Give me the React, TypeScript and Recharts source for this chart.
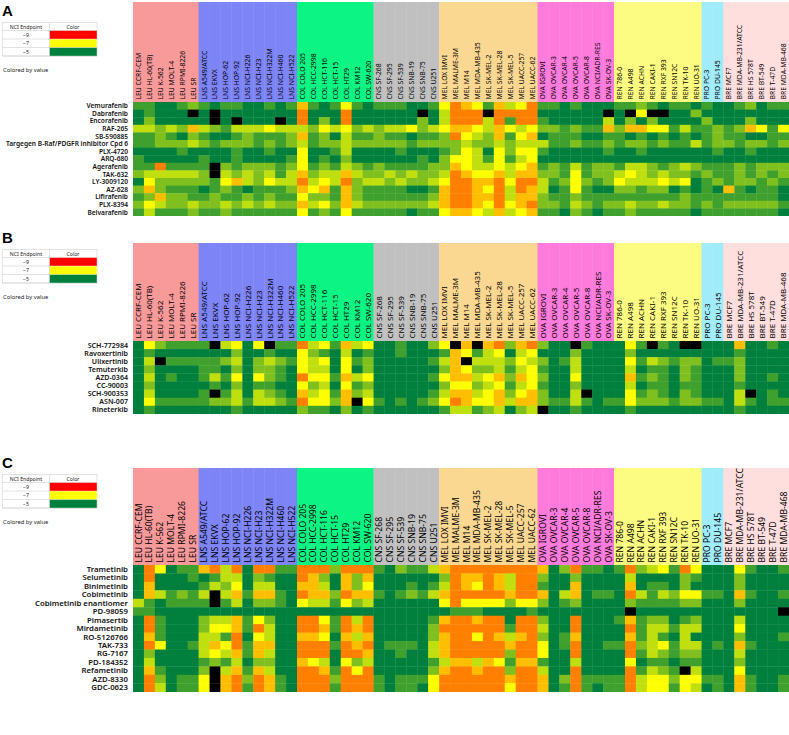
import React from 'react';
import { ScatterChart, Scatter, XAxis, YAxis } from 'recharts';

const CELL_LINES = [
  'LEU CCRF-CEM', 'LEU HL-60(TB)', 'LEU K-562', 'LEU MOLT-4', 'LEU RPMI-8226', 'LEU SR',
  'LNS A549/ATCC', 'LNS EKVX', 'LNS HOP-62', 'LNS HOP-92', 'LNS NCI-H226', 'LNS NCI-H23', 'LNS NCI-H322M', 'LNS NCI-H460', 'LNS NCI-H522',
  'COL COLO 205', 'COL HCC-2998', 'COL HCT-116', 'COL HCT-15', 'COL HT29', 'COL KM12', 'COL SW-620',
  'CNS SF-268', 'CNS SF-295', 'CNS SF-539', 'CNS SNB-19', 'CNS SNB-75', 'CNS U251',
  'MEL LOX IMVI', 'MEL MALME-3M', 'MEL M14', 'MEL MDA-MB-435', 'MEL SK-MEL-2', 'MEL SK-MEL-28', 'MEL SK-MEL-5', 'MEL UACC-257', 'MEL UACC-62',
  'OVA IGROVI', 'OVA OVCAR-3', 'OVA OVCAR-4', 'OVA OVCAR-5', 'OVA OVCAR-8', 'OVA NCI/ADR-RES', 'OVA SK-OV-3',
  'REN 786-0', 'REN A498', 'REN ACHN', 'REN CAKI-1', 'REN RXF 393', 'REN SN12C', 'REN TK-10', 'REN UO-31',
  'PRO PC-3', 'PRO DU-145',
  'BRE MCF7', 'BRE MDA-MB-231/ATCC', 'BRE HS 578T', 'BRE BT-549', 'BRE T-47D', 'BRE MDA-MB-468',
];

const GROUP_COLORS: Record<string, string> = {
  LEU: '#f89a9a', LNS: '#7d84f6', COL: '#0cf584', CNS: '#c0c0c0', MEL: '#fbd892',
  OVA: '#fe7bdc', REN: '#fdfc82', PRO: '#a0ecfb', BRE: '#ffdede',
};

const LEGEND_ENDPOINTS = [-9, -7, -5];

// cell code -> NCI endpoint value ('x' = no data, drawn black)
const CODE_VALUES: Record<string, number | null> = {
  '0': -5, '1': -5.5, '2': -6, '3': -6.5, '4': -7, '5': -7.5, '6': -8, '7': -8.5, '8': -9, x: null,
};

const DRUGS_A = ['Vemurafenib', 'Dabrafenib', 'Encorafenib', 'RAF-265', 'SB-590885', 'Targegen B-Raf/PDGFR inhibitor Cpd 6', 'PLX-4720', 'ARQ-680', 'Agerafenib', 'TAK-632', 'LY-3009120', 'AZ-628', 'Lifirafenib', 'PLX-8394', 'Belvarafenib'];
const VALUES_A = [
  '1100121011 0010151014 1011100146 5415346110 1000112101 1010012011',
  '01000x0x00 0000060006 000000x036 66x6666000 000x0x4xx0 0200000000',
  '0200000x0x 000x060206 0000002036 6636166100 0003020200 0020002000',
  '3323253213 3343332434 2323342345 5435434221 2115255441 3112125414',
  '1121021001 2111251203 1121101126 4325145011 1001101010 1012110011',
  '1122232122 2121231223 2222212222 3223233311 2112122121 1312212212',
  '0000100001 0010040013 0000100012 4304244100 0001001000 0001001000',
  '1000001001 0000140102 0000001024 4314134000 0000000000 0000000000',
  '1161111x21 2221241213 2121111225 4334345121 3122133212 3211121222',
  '2333332x32 3231352335 3223232236 5445355221 4122343232 2121121212',
  '0422222145 3243363436 2332322346 6556466312 4212433343 4012122121',
  '2521110121 0111254515 2111100156 6546365301 4100221220 1010510110',
  '1252211211 2121142215 2111111256 6556355211 2111111111 2111111110',
  '2432232232 3232253425 3222222356 6546456221 3212232232 2121222221',
  '1311121121 1111141214 1111101145 5435345110 2101121111 1011111110',
];

const DRUGS_B = ['SCH-772984', 'Ravoxertinib', 'Ulixertinib', 'Temuterkib', 'AZD-0364', 'CC-90003', 'SCH-900353', 'ASN-007', 'Rineterkib'];
const VALUES_B = [
  '0421111x34 04x1163415 340010024x 5x56256200 x100041x10 xx00050010',
  '0100000002 0010042103 0100100015 4134034000 2000020000 0000010000',
  '03x1111123 0232143404 1200000135 x333243201 3000041321 2201120000',
  '0200001102 0221043304 0200000025 4223134100 3000030110 2100020000',
  '0301001314 0421064415 3400000145 5345254200 4000051210 2100020010',
  '0200000102 0110042304 1200000024 4234134100 2000030110 1100010000',
  '0300001x13 0321053415 2300000135 5345245200 3x00041210 210003x010',
  '0411111223 1332164425 x410101246 5445355211 3101142221 2211031011',
  '0100000001 0000021102 0100000013 3123023x00 1000010000 0000010000',
];

const DRUGS_C = ['Trametinib', 'Selumetinib', 'Binimetinib', 'Cobimetinib', 'Cobimetinib enantiomer', 'PD-98059', 'Pimasertib', 'Mirdametinib', 'RO-5126766', 'TAK-733', 'RG-7167', 'PD-184352', 'Refametinib', 'AZD-8330', 'GDC-0623'];
const VALUES_C = [
  '0640115636 0661166626 6610211356 6666666502 6110162341 6400041001',
  '0600010133 0210065205 2500000026 5565366200 2000030000 2100020000',
  '0500001324 0330055305 2400010136 5465366100 5000050110 2000020000',
  '0531213x35 1551065526 5510121356 6666566503 5011063132 4411051001',
  '3101111x13 0221043314 2300000046 4444244201 2000021111 2200020000',
  '1100000000 0000000000 0000000001 1100001000 00000x0000 000000000x',
  '0610002335 1420066416 3600000156 6566066200 6000151220 1200030000',
  '0610002445 1630066516 5600000266 6666166300 6000061331 3300040000',
  '0510003316 0430055405 3500000256 6465356201 5000051310 3000020001',
  '0640013546 1550066616 5601110356 6666566401 6001162341 3301051000',
  '0200003435 1530066606 6500100356 6666266400 6000061321 2200030000',
  '0300001213 0220054304 2300000135 5354155100 3000040110 1100020000',
  '0510002x35 1530066516 4600000256 6566266300 6000061321 x300040000',
  '0620114x56 2651066626 6610111466 6666566502 6111163442 4411051001',
  '0630114x56 1651066616 6610110466 6666466501 6101163441 4301051001',
];

const FONT = '"Noto Sans", "Open Sans", sans-serif';
const CHART_W = 789;
const LABEL_W = 133;
const NCOL = CELL_LINES.length;
const COL_W = (CHART_W - LABEL_W) / NCOL;

const RED = [255, 0, 0];
const YEL = [255, 255, 0];
const GRN = [0, 128, 60];

function colorFor(v: number | null): string {
  if (v === null || v === undefined) return '#000000';
  const t = Math.max(0, Math.min(1, (v + 9) / 4));
  let a = RED, b = YEL, u = t / 0.5;
  if (t >= 0.5) { a = YEL; b = GRN; u = (t - 0.5) / 0.5; }
  const c = a.map((av, i) => Math.round(av + (b[i] - av) * u));
  return `rgb(${c[0]},${c[1]},${c[2]})`;
}

function cleanRow(s: string): string {
  return s.replace(/\s/g, '');
}

function Legend({ letter, baseY }: { letter: string; baseY: number }) {
  const t0 = baseY + 6.5;
  const rowsY = [t0 + 8, t0 + 16.5, t0 + 25];
  return (
    <svg width={110} height={80} style={{ position: 'absolute', left: 0, top: baseY - 16 }} viewBox={`0 ${baseY - 16} 110 80`}>
      <text x={2} y={baseY} fontSize={15} fontWeight={700} fontFamily='"Liberation Sans", Arial, sans-serif' fill="#000">{letter}</text>
      <rect x={2.5} y={t0} width={94.5} height={33.5} fill="#fff" stroke="#d0d0d0" strokeWidth={0.6} />
      <line x1={49.5} x2={49.5} y1={t0} y2={t0 + 33.5} stroke="#d0d0d0" strokeWidth={0.6} />
      <line x1={2.5} x2={97} y1={t0 + 8} y2={t0 + 8} stroke="#d0d0d0" strokeWidth={0.6} />
      <text x={26} y={t0 + 6} fontSize={5.2} textAnchor="middle" fontFamily={FONT} fill="#222">NCI Endpoint</text>
      <text x={73} y={t0 + 6} fontSize={5.2} textAnchor="middle" fontFamily={FONT} fill="#222">Color</text>
      {LEGEND_ENDPOINTS.map((v, i) => (
        <g key={v}>
          <line x1={2.5} x2={97} y1={rowsY[i] + 8.5} y2={rowsY[i] + 8.5} stroke="#d0d0d0" strokeWidth={0.6} />
          <rect x={49.8} y={rowsY[i] + 0.3} width={47} height={8} fill={colorFor(v)} />
          <text x={26} y={rowsY[i] + 6.2} fontSize={5.2} textAnchor="middle" fontFamily={FONT} fill="#222">{'\u2212' + Math.abs(v)}</text>
        </g>
      ))}
      <text x={3} y={baseY + 55.5} fontSize={5.8} fontFamily={FONT} fill="#222">Colored by value</text>
    </svg>
  );
}

type PanelProps = {
  top: number; headerH: number; drugs: string[]; values: string[]; rowH: number; colFont: number; rowFont: number;
};

function HeatPanel({ top, headerH, drugs, values, rowH, colFont, rowFont }: PanelProps) {
  const n = drugs.length;
  const data: { x: number; y: number; v: number | null }[] = [];
  values.forEach((raw, r) => {
    const row = cleanRow(raw);
    for (let c = 0; c < NCOL; c++) {
      const code = row[c] ?? '0';
      const v = CODE_VALUES[code];
      data.push({ x: c + 0.5, y: r + 0.5, v: v === undefined ? -5 : v });
    }
  });
  const height = headerH + n * rowH;

  const renderHeaderTick = (props: any) => {
    const { x, y, payload } = props;
    const i = Math.round(payload.value - 0.5);
    const name = CELL_LINES[i];
    const grp = name.split(' ')[0];
    return (
      <g>
        <rect x={x - COL_W / 2} y={y - headerH + 2} width={COL_W + 0.4} height={headerH - 2} fill={GROUP_COLORS[grp]} />
        <text transform={`translate(${x + colFont * 0.36},${y - 2.5}) rotate(-90)`} fontSize={colFont} fontFamily={FONT} fill="#000">{name}</text>
      </g>
    );
  };

  const renderRowTick = (props: any) => {
    const { x, y, payload } = props;
    return (
      <text x={x} y={y} dy="0.35em" textAnchor="end" fontSize={rowFont} fontWeight={600} fontFamily={FONT} fill="#111">
        {drugs[Math.round(payload.value - 0.5)]}
      </text>
    );
  };

  const renderCell = (props: any) => {
    const { cx, cy, payload } = props;
    return <rect x={cx - COL_W / 2} y={cy - rowH / 2} width={COL_W + 0.35} height={rowH + 0.35} fill={colorFor(payload.v)} />;
  };

  return (
    <div style={{ position: 'absolute', left: 0, top, width: CHART_W, height }}>
      <ScatterChart width={CHART_W} height={height} margin={{ top: 0, right: 0, bottom: 0, left: 0 }}>
        <XAxis
          type="number"
          dataKey="x"
          domain={[0, NCOL]}
          orientation="top"
          height={headerH}
          ticks={CELL_LINES.map((_, i) => i + 0.5)}
          interval={0}
          tick={renderHeaderTick}
          tickLine={false}
          axisLine={false}
          tickSize={0}
          tickMargin={0}
        />
        <YAxis
          type="number"
          dataKey="y"
          domain={[0, n]}
          reversed
          width={LABEL_W}
          ticks={drugs.map((_, i) => i + 0.5)}
          interval={0}
          tick={renderRowTick}
          tickLine={false}
          axisLine={false}
          tickSize={0}
          tickMargin={5}
        />
        <Scatter data={data} shape={renderCell} isAnimationActive={false} />
      </ScatterChart>
    </div>
  );
}

export default function App() {
  return (
    <div style={{ position: 'absolute', left: 0, top: 0, width: 789, height: 735, background: '#fff', overflow: 'hidden' }}>
      <HeatPanel top={0} headerH={102} drugs={DRUGS_A} values={VALUES_A} rowH={7.6} colFont={6.8} rowFont={6.6} />
      <HeatPanel top={241} headerH={100} drugs={DRUGS_B} values={VALUES_B} rowH={8.1} colFont={8} rowFont={7.1} />
      <HeatPanel top={466} headerH={99} drugs={DRUGS_C} values={VALUES_C} rowH={8.45} colFont={8.6} rowFont={7.8} />
      <Legend letter="A" baseY={15.5} />
      <Legend letter="B" baseY={243} />
      <Legend letter="C" baseY={468} />
    </div>
  );
}
